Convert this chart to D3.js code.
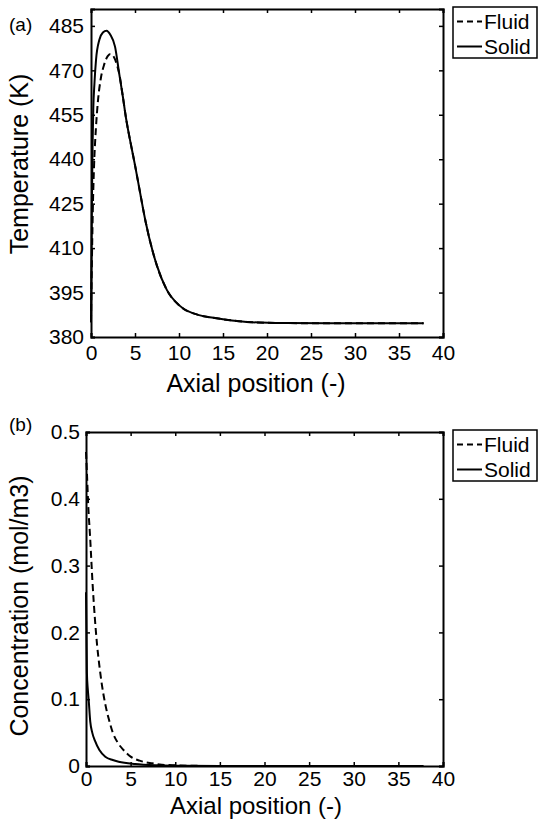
<!DOCTYPE html>
<html lang="en">
<head>
    <meta charset="UTF-8">
    <title>Temperature and concentration profiles</title>
    <script src="https://d3js.org/d3.v7.min.js"></script>
    <style>
        body {
            margin: 0;
            padding: 0;
            background-color: #fff;
        }
        svg text {
            font-family: "Liberation Sans", Arial, sans-serif;
            fill: #000;
        }
    </style>
</head>
<body>
    <svg id="chart" width="539" height="820"></svg>

    <script>
        // Axis ticks
        const xTicks = [0, 5, 10, 15, 20, 25, 30, 35, 40];
        const tempTicks = [380, 395, 410, 425, 440, 455, 470, 485];
        const concTicks = [0, 0.1, 0.2, 0.3, 0.4, 0.5];

        // (a) temperature, fluid (dashed)
        const tempFluidX = [0, 0.03, 0.1, 0.2, 0.35, 0.55, 0.8, 1.1, 1.5, 1.9, 2.2, 2.6, 3.03, 3.2, 3.6, 4.0, 4.5, 5.0, 5.5, 6.2, 7.0, 7.5, 8.6, 10.1, 12.4, 13.9, 17.7, 22, 30, 37.8];
        const tempFluidY = [385, 392, 405, 422, 438, 450, 460, 467, 472, 474.8, 475.5, 474.5, 471, 469, 461.5, 453.5, 445.5, 438, 430, 419, 409, 404, 396, 390.5, 387.3, 386.5, 385.1, 384.7, 384.6, 384.6];

        // (a) temperature, solid (full line)
        const tempSolidX = [0, 0.03, 0.1, 0.18, 0.26, 0.4, 0.57, 0.95, 1.35, 1.77, 2.2, 2.73, 3.2, 3.6, 4.0, 4.5, 5.0, 5.5, 6.2, 7.0, 7.5, 8.6, 10.1, 12.4, 13.9, 17.7, 22, 30, 37.8];
        const tempSolidY = [385, 400, 425, 445, 457, 466, 473.5, 480.3, 482.8, 483.4, 482, 478, 469, 461.5, 453.5, 445.5, 438, 430, 419, 409, 404, 396, 390.5, 387.3, 386.5, 385.1, 384.7, 384.6, 384.6];

        // (b) concentration, fluid (dashed)
        const concFluidX = [0, 0.1, 0.25, 0.45, 0.75, 1.0, 1.25, 1.5, 1.8, 2.2, 2.6, 3.0, 3.6, 4.2, 5.0, 6.0, 7.4, 8.5, 10, 12, 15, 37.8];
        const concFluidY = [0.47, 0.44, 0.39, 0.345, 0.27, 0.22, 0.18, 0.15, 0.12, 0.09, 0.068, 0.05, 0.034, 0.024, 0.014, 0.008, 0.004, 0.002, 0.001, 0.0003, 0, 0];

        // (b) concentration, solid (full line)
        const concSolidX = [0, 0.05, 0.1, 0.2, 0.3, 0.48, 0.7, 1.0, 1.5, 2.16, 3.0, 3.66, 5.5, 8, 11, 15, 37.8];
        const concSolidY = [0.26, 0.2, 0.14, 0.115, 0.099, 0.066, 0.05, 0.038, 0.024, 0.014, 0.009, 0.0065, 0.003, 0.001, 0.0002, 0, 0];

        const legendLabels = ['Fluid', 'Solid'];

        const svg = d3.select('#chart');
        const tickFont = 21;
        const labelFont = 25;

        const toPoints = (xs, ys) => xs.map((x, i) => ({x: x, y: ys[i]}));

        // Draw one panel with a boxed frame and inward ticks
        const drawPanel = (opts) => {
            const x = d3.scaleLinear().domain([0, 40]).range([opts.left, opts.right]);
            const y = d3.scaleLinear().domain(opts.yDomain).range([opts.bottom, opts.top]);
            const g = svg.append('g');

            // curves
            const line = d3.line()
                .x(d => x(d.x))
                .y(d => y(d.y))
                .curve(d3.curveMonotoneX);

            g.append('path')
                .datum(toPoints(opts.fluidX, opts.fluidY))
                .attr('d', line)
                .attr('fill', 'none')
                .attr('stroke', '#000')
                .attr('stroke-width', 2)
                .attr('stroke-dasharray', '7,4');

            g.append('path')
                .datum(toPoints(opts.solidX, opts.solidY))
                .attr('d', line)
                .attr('fill', 'none')
                .attr('stroke', '#000')
                .attr('stroke-width', 2);

            // axes (ticks point inward)
            const bottomAxis = d3.axisBottom(x).tickValues(xTicks).tickSize(-4).tickPadding(opts.xPad);
            const topAxis = d3.axisTop(x).tickValues(xTicks).tickSize(-4).tickFormat('');
            const leftAxis = d3.axisLeft(y).tickValues(opts.yTicks).tickSize(-4).tickPadding(opts.yPad).tickFormat(opts.yFormat);
            const rightAxis = d3.axisRight(y).tickValues(opts.yTicks).tickSize(-4).tickFormat('');

            const styleAxis = (sel) => {
                sel.select('.domain').attr('stroke', '#000').attr('stroke-width', 2);
                sel.selectAll('.tick line').attr('stroke', '#000').attr('stroke-width', 1.5);
                sel.selectAll('.tick text').attr('font-size', tickFont).attr('font-family', '"Liberation Sans", Arial, sans-serif');
            };

            g.append('g').attr('transform', `translate(0,${opts.bottom})`).call(bottomAxis).call(styleAxis);
            g.append('g').attr('transform', `translate(0,${opts.top})`).call(topAxis).call(styleAxis);
            g.append('g').attr('transform', `translate(${opts.left},0)`).call(leftAxis).call(styleAxis);
            g.append('g').attr('transform', `translate(${opts.right},0)`).call(rightAxis).call(styleAxis);

            // axis titles
            g.append('text')
                .attr('x', 256)
                .attr('y', opts.xLabelY)
                .attr('text-anchor', 'middle')
                .attr('font-size', opts.xLabelFont)
                .text('Axial position (-)');

            g.append('text')
                .attr('transform', `translate(28,${opts.yLabelMid}) rotate(-90)`)
                .attr('text-anchor', 'middle')
                .attr('font-size', labelFont)
                .text(opts.yLabel);

            // panel letter
            g.append('text')
                .attr('x', 9)
                .attr('y', opts.letterY)
                .attr('font-size', 19)
                .text(opts.letter);

            // legend box
            const lg = g.append('g').attr('transform', `translate(453,${opts.top - 2})`);
            lg.append('rect')
                .attr('x', 0).attr('y', 0)
                .attr('width', 84).attr('height', 51)
                .attr('fill', '#fff')
                .attr('stroke', '#000')
                .attr('stroke-width', 1.5);

            legendLabels.forEach((name, i) => {
                const cy = 14.5 + i * 25;
                lg.append('line')
                    .attr('x1', 4).attr('x2', 29)
                    .attr('y1', cy).attr('y2', cy)
                    .attr('stroke', '#000')
                    .attr('stroke-width', 2)
                    .attr('stroke-dasharray', i === 0 ? '6,4' : null);
                lg.append('text')
                    .attr('x', 31)
                    .attr('y', cy + 7)
                    .attr('font-size', 21)
                    .text(name);
            });
        };

        drawPanel({
            left: 91, right: 443, top: 9, bottom: 337,
            yDomain: [380, 490.7],
            yTicks: tempTicks,
            yFormat: d3.format('d'),
            yLabel: 'Temperature (K)',
            yLabelMid: 164,
            xLabelY: 392, xLabelFont: labelFont,
            xPad: 8, yPad: 7,
            letter: '(a)', letterY: 31,
            fluidX: tempFluidX, fluidY: tempFluidY,
            solidX: tempSolidX, solidY: tempSolidY
        });

        drawPanel({
            left: 86, right: 443, top: 432, bottom: 766,
            yDomain: [0, 0.5],
            yTicks: concTicks,
            yFormat: d => d === 0 ? '0' : d3.format('.1f')(d),
            yLabel: 'Concentration (mol/m3)',
            yLabelMid: 606,
            xLabelY: 814, xLabelFont: 24,
            xPad: 5, yPad: 6,
            letter: '(b)', letterY: 431,
            fluidX: concFluidX, fluidY: concFluidY,
            solidX: concSolidX, solidY: concSolidY
        });
    </script>
</body>
</html>
